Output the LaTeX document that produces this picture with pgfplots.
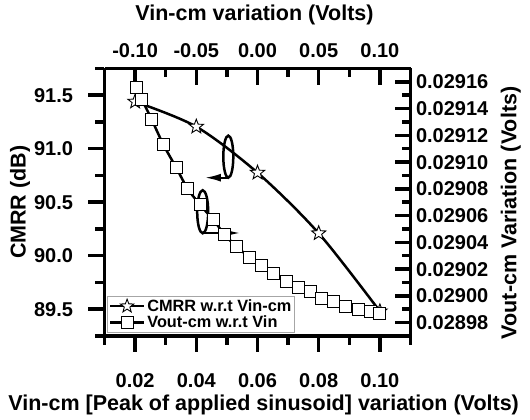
\documentclass[border=0pt]{standalone}
\usepackage{fontspec}
\setmainfont{Liberation Sans}
\usepackage{pgfplots}
\pgfplotsset{compat=1.18}
\usetikzlibrary{arrows.meta}

\pgfdeclareplotmark{ostar}{%
  \pgfpathmoveto{\pgfpointpolar{90}{\pgfplotmarksize}}%
  \pgfpathlineto{\pgfpointpolar{126}{0.42\pgfplotmarksize}}%
  \pgfpathlineto{\pgfpointpolar{162}{\pgfplotmarksize}}%
  \pgfpathlineto{\pgfpointpolar{198}{0.42\pgfplotmarksize}}%
  \pgfpathlineto{\pgfpointpolar{234}{\pgfplotmarksize}}%
  \pgfpathlineto{\pgfpointpolar{270}{0.42\pgfplotmarksize}}%
  \pgfpathlineto{\pgfpointpolar{306}{\pgfplotmarksize}}%
  \pgfpathlineto{\pgfpointpolar{342}{0.42\pgfplotmarksize}}%
  \pgfpathlineto{\pgfpointpolar{18}{\pgfplotmarksize}}%
  \pgfpathlineto{\pgfpointpolar{54}{0.42\pgfplotmarksize}}%
  \pgfpathclose
  \pgfusepathqfillstroke
}

\pgfplotsset{
  myaxis/.style={
    scale only axis, width=306pt, height=267.5pt,
    at={(0,0)}, anchor=south west,
    axis line style={line width=3.5pt},
    major tick length=16pt, minor tick length=9pt,
    tick style={line width=3.5pt, black},
    tick label style={font=\fontsize{20}{22}\selectfont\bfseries},
    label style={font=\fontsize{21.5}{24}\selectfont\bfseries},
    /pgf/number format/assume math mode=true,
    scaled ticks=false,
    clip=false,
  },
  topleft/.style={xmin=-0.125, xmax=0.125, ymin=89.25, ymax=91.75},
  botright/.style={xmin=0.01, xmax=0.11, ymin=0.02897, ymax=0.02917},
}

\begin{document}
\begin{tikzpicture}
\path[use as bounding box] (-104.5pt,-84pt) rectangle (425.5pt,336pt);

% top x axis (inside ticks) + CMRR data
\begin{axis}[myaxis, topleft,
  axis x line*=top, axis y line=none, tick align=inside,
  xtick={-0.1,-0.05,0,0.05,0.1},
  minor xtick={-0.125,-0.075,-0.025,0.025,0.075,0.125},
  xticklabels={-0.10,-0.05,0.00,0.05,0.10},
  xticklabel style={yshift=7pt},
  xlabel={Vin-cm variation (Volts)},
  xlabel style={at={(axis description cs:0.49,1.2)}, anchor=center},
]
\addplot[line width=2.5pt, smooth, tension=0.5, mark=ostar, mark size=7.5pt,
  mark options={fill=white, line width=0.9pt, solid}]
  coordinates {(-0.10,91.44) (-0.05,91.206) (0,90.776) (0.05,90.21) (0.10,89.48)};
\end{axis}

% left y axis (outside ticks)
\begin{axis}[myaxis, topleft,
  axis y line*=left, axis x line=none, tick align=outside,
  ytick={89.5,90,90.5,91,91.5},
  minor ytick={89.25,89.75,90.25,90.75,91.25,91.75},
  yticklabels={89.5,90.0,90.5,91.0,91.5},
  yticklabel style={xshift=-12pt},
  ylabel={CMRR (dB)},
  ylabel style={at={(axis description cs:-0.276,0.5)}, anchor=center},
]
\end{axis}

% right y axis (inside ticks)
\begin{axis}[myaxis, botright,
  axis y line*=right, axis x line=none, tick align=inside,
  ytick={0.02898,0.02900,0.02902,0.02904,0.02906,0.02908,0.02910,0.02912,0.02914,0.02916},
  minor ytick={0.02897,0.02899,0.02901,0.02903,0.02905,0.02907,0.02909,0.02911,0.02913,0.02915,0.02917},
  yticklabels={0.02898,0.02900,0.02902,0.02904,0.02906,0.02908,0.02910,0.02912,0.02914,0.02916},
  yticklabel style={xshift=2pt},
  ylabel={Vout-cm Variation (Volts)},
  ylabel style={at={(axis description cs:1.328,0.46)}, anchor=center, rotate=0},
]
\end{axis}

% bottom x axis (outside ticks) + Vout-cm data
\begin{axis}[myaxis, botright,
  axis x line*=bottom, axis y line=none, tick align=outside,
  xtick={0.02,0.04,0.06,0.08,0.10},
  minor xtick={0.01,0.03,0.05,0.07,0.09,0.11},
  xticklabels={0.02,0.04,0.06,0.08,0.10},
  xticklabel style={yshift=-18pt},
  xlabel={Vin-cm [Peak of applied sinusoid] variation (Volts)},
  xlabel style={at={(axis description cs:0.52,-0.258)}, anchor=center},
  legend style={at={(axis description cs:0.008,0.011)}, anchor=south west,
    draw=gray!70, line width=0.8pt, inner sep=1.5pt, row sep=-1pt,
    font=\fontsize{16.3}{18}\selectfont\bfseries},
  legend cell align=left,
  legend image code/.code={\draw[mark repeat=2,mark phase=2,#1] plot coordinates {(0pt,0pt) (17pt,0pt) (34pt,0pt)};},
]
\addlegendimage{line width=2.5pt, mark=ostar, mark size=7pt, mark options={fill=white, line width=0.9pt, solid}}
\addlegendentry{CMRR w.r.t Vin-cm}
\addplot[line width=2.5pt, mark=square*, mark size=6pt,
  mark options={fill=white, line width=0.9pt, solid}]
  coordinates {
  (0.0206,0.029156) (0.0222,0.029147) (0.0254,0.029132) (0.0292,0.029113)
  (0.0334,0.029096) (0.0371,0.029080) (0.0412,0.029068) (0.0456,0.029057)
  (0.0491,0.029046) (0.0530,0.029037) (0.0573,0.029029) (0.0614,0.029023)
  (0.0652,0.029017) (0.0693,0.029011) (0.0733,0.029006) (0.0772,0.029003)
  (0.0810,0.028998) (0.0848,0.028996) (0.0889,0.028992) (0.0929,0.028990)
  (0.0970,0.028988) (0.1000,0.028987)};
\addlegendentry{Vout-cm w.r.t Vin}
% annotation ellipses and arrows
\draw[line width=2.5pt] (axis cs:0.05046,0.0291041) ellipse [x radius=5pt, y radius=21pt];
\draw[line width=2pt, -{Latex[length=16pt,width=8pt]}] (axis cs:0.05046,0.02908836) -- (axis cs:0.04284,0.02908836);
\draw[line width=2.5pt] (axis cs:0.04209,0.0290629) ellipse [x radius=5.5pt, y radius=21.5pt];
\draw[line width=2pt, -{Latex[length=16pt,width=8pt]}] (axis cs:0.04209,0.02904701) -- (axis cs:0.05428,0.02904701);
\end{axis}
\end{tikzpicture}
\end{document}
